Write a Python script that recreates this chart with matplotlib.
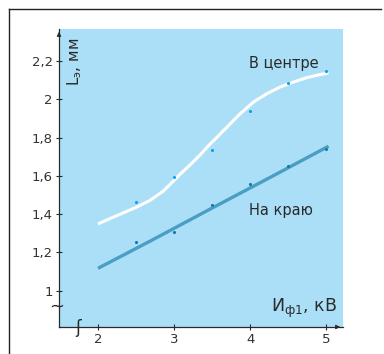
import matplotlib
matplotlib.use("Agg")
import matplotlib.pyplot as plt
from matplotlib.lines import Line2D

# ---- data ----
x_points = [2.5, 3.0, 3.5, 4.0, 4.5, 5.0]
center_points = [1.463, 1.595, 1.737, 1.937, 2.084, 2.147]
edge_points = [1.253, 1.305, 1.447, 1.558, 1.653, 1.742]

center_curve_x = [2.0, 2.158, 2.333, 2.509, 2.684, 2.859, 2.970, 3.079, 3.211, 3.342,
                  3.474, 3.518, 3.693, 3.868, 4.043, 4.220, 4.395, 4.570, 4.746, 4.921, 5.030]
center_curve_y = [1.349, 1.377, 1.407, 1.437, 1.472, 1.521, 1.565, 1.609, 1.658, 1.710,
                  1.767, 1.784, 1.854, 1.925, 1.986, 2.030, 2.065, 2.091, 2.114, 2.130, 2.138]

edge_curve_x = [2.0, 2.68, 3.5, 4.3, 5.03]
edge_curve_y = [1.117, 1.258, 1.432, 1.600, 1.755]

x_ticks = [2, 3, 4, 5]
x_tick_labels = ["2", "3", "4", "5"]
y_ticks = [1.0, 1.2, 1.4, 1.6, 1.8, 2.0, 2.2]
y_tick_labels = ["1", "1,2", "1,4", "1,6", "1,8", "2", "2,2"]

W, H = 384, 354
fig = plt.figure(figsize=(W / 100, H / 100), dpi=100)
fig.patch.set_facecolor("white")

# outer frame lines
fig.add_artist(Line2D([9 / W, 9 / W], [0, 1 - 9 / H], color="#222222", lw=1.0, transform=fig.transFigure))
fig.add_artist(Line2D([9 / W, 381 / W], [1 - 9 / H, 1 - 9 / H], color="#222222", lw=1.0, transform=fig.transFigure))

L, R, T, B = 59, 343, 29, 327
ax = fig.add_axes([L / W, 1 - B / H, (R - L) / W, (B - T) / H])
ax.set_facecolor("#abdff8")
ax.set_xlim(1.487, 5.22)
ax.set_ylim(0.81, 2.368)

for s in ["top", "right"]:
    ax.spines[s].set_visible(False)
for s in ["left", "bottom"]:
    ax.spines[s].set_color("#2a2a2a")
    ax.spines[s].set_linewidth(0.9)

ax.set_xticks(x_ticks)
ax.set_xticklabels(x_tick_labels)
ax.set_yticks(y_ticks)
ax.set_yticklabels(y_tick_labels)
ax.tick_params(axis="both", direction="inout", length=5, width=0.8, color="#2a2a2a",
               labelsize=9.5, labelcolor="#333333")
ax.tick_params(axis="y", pad=2)
ax.tick_params(axis="x", pad=2)

# arrows at axis ends
ax.annotate("", xy=(0, 1.0), xytext=(0, 0.97), xycoords="axes fraction",
            arrowprops=dict(arrowstyle="-|>", color="#2a2a2a", lw=0.8, mutation_scale=6))
ax.annotate("", xy=(1.0, 0), xytext=(0.97, 0), xycoords="axes fraction",
            arrowprops=dict(arrowstyle="-|>", color="#2a2a2a", lw=0.8, mutation_scale=6))

# curves
ax.plot(center_curve_x, center_curve_y, color="white", lw=2.2, solid_capstyle="butt",
        solid_joinstyle="round", zorder=3)
ax.plot(edge_curve_x, edge_curve_y, color="#4a9ec4", lw=2.4, solid_capstyle="butt",
        solid_joinstyle="round", zorder=3)
ax.scatter(x_points, center_points, s=5, color="#12a0e6", zorder=4, linewidths=0)
ax.scatter(x_points, edge_points, s=5, color="#1678a8", zorder=4, linewidths=0)

# annotations
ax.text(3.99, 2.19, "В центре", fontsize=10.5, color="#2a2a2a", ha="left", va="center")
ax.text(3.99, 1.421, "На краю", fontsize=10.5, color="#2a2a2a", ha="left", va="center")

fig.text(75 / W, 1 - 62 / H, r"$\mathregular{L_э}$, мм", rotation=90, fontsize=11,
         color="#2a2a2a", ha="center", va="center")
fig.text(337 / W, 1 - 308 / H, r"И$\mathregular{_{ф1}}$, кВ", fontsize=12.5,
         color="#2a2a2a", ha="right", va="center")

# axis break marks
fig.text(57 / W, 1 - 307 / H, "~", fontsize=13, color="#2a2a2a", ha="center", va="center")
fig.text(78 / W, 1 - 328 / H, "ʃ", fontsize=12, color="#2a2a2a", ha="center", va="center")

fig.savefig("out.png", dpi=100, facecolor="white")
